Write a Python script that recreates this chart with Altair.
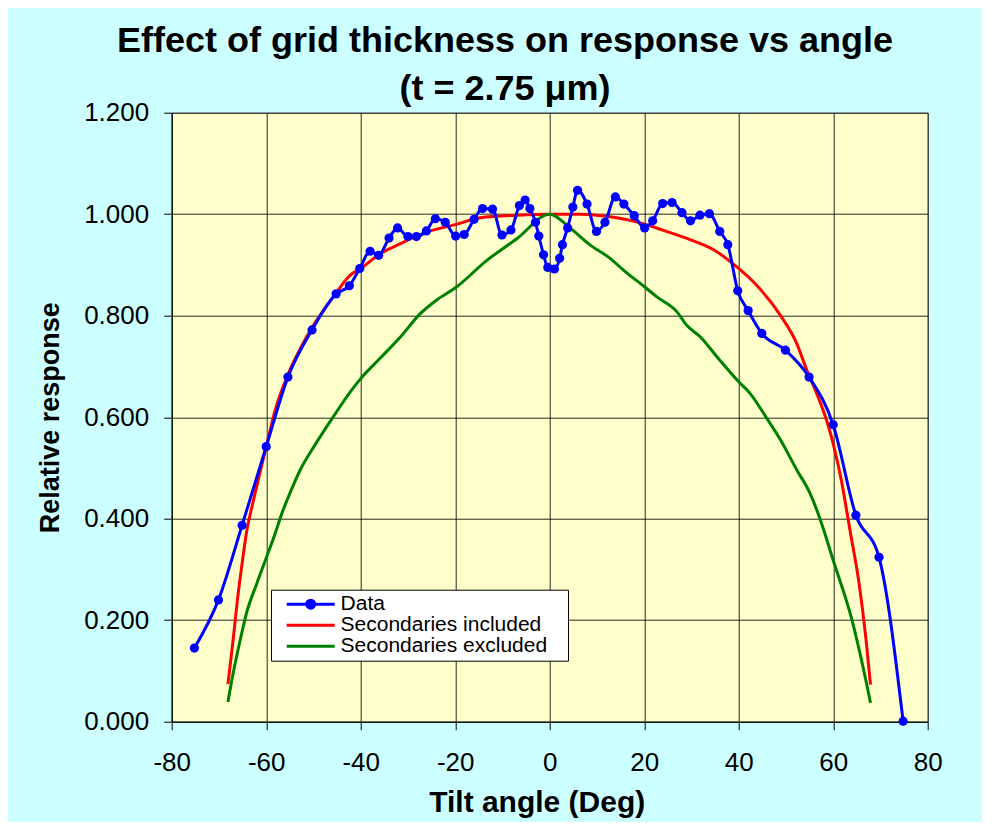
import altair as alt
import pandas as pd

# ---------------- data ----------------
TITLE_LINES = ["Effect of grid thickness on response vs angle", "(t = 2.75 μm)"]
X_TITLE = "Tilt angle (Deg)"
Y_TITLE = "Relative response"
SERIES = ["Data", "Secondaries included", "Secondaries excluded"]
COLORS = ["#0000FF", "#FF0000", "#008000"]
X_TICKS = [-80, -60, -40, -20, 0, 20, 40, 60, 80]
Y_TICKS = [0.0, 0.2, 0.4, 0.6, 0.8, 1.0, 1.2]

data_angle = [-75.2, -70.1, -65.1, -60.0, -55.4, -50.3, -45.2, -42.4, -40.2, -38.0,
              -36.2, -34.0, -32.2, -30.0, -28.2, -26.1, -24.2, -22.1, -19.9, -18.1,
              -16.0, -14.2, -12.1, -10.1, -8.2, -6.4, -5.2, -4.2, -3.0, -2.3,
              -1.3, -0.4, 1.0, 2.1, 2.7, 3.8, 4.9, 5.9, 7.9, 9.9,
              11.7, 13.9, 15.7, 17.9, 20.1, 21.8, 23.9, 25.9, 28.0, 29.8,
              31.8, 33.8, 36.0, 37.7, 39.8, 42.0, 44.9, 49.9, 54.9, 60.0,
              64.8, 69.7, 74.8]
data_value = [0.145, 0.240, 0.387, 0.542, 0.679, 0.772, 0.843, 0.859, 0.893, 0.927,
              0.919, 0.953, 0.973, 0.956, 0.956, 0.967, 0.991, 0.984, 0.957, 0.960,
              0.990, 1.011, 1.010, 0.959, 0.969, 1.017, 1.028, 1.011, 0.984, 0.957,
              0.920, 0.895, 0.892, 0.913, 0.940, 0.973, 1.014, 1.047, 1.020, 0.966,
              0.984, 1.034, 1.020, 0.997, 0.973, 0.987, 1.021, 1.023, 1.003, 0.987,
              0.998, 1.001, 0.966, 0.940, 0.849, 0.810, 0.765, 0.732, 0.679, 0.585,
              0.407, 0.324, 0.001]

incl_angle = [-68.1, -67.0, -66.1, -65.2, -64.2, -62.7, -61.7, -59.9, -58.1, -55.3,
              -52.8, -50.0, -45.8, -42.2, -40.0, -35.9, -31.6, -26.0, -19.8, -14.7,
              -6.9, 0.0, 6.5, 12.8, 19.2, 24.1, 29.7, 34.7, 39.6, 43.8,
              48.8, 52.3, 54.4, 56.5, 58.6, 60.0, 61.8, 63.5, 65.5, 66.9, 67.9]
incl_value = [0.074, 0.161, 0.239, 0.305, 0.371, 0.436, 0.476, 0.545, 0.614, 0.686,
              0.735, 0.781, 0.837, 0.880, 0.893, 0.922, 0.942, 0.965, 0.980, 0.993,
              0.998, 1.000, 1.000, 0.995, 0.983, 0.968, 0.950, 0.930, 0.896, 0.860,
              0.801, 0.745, 0.693, 0.647, 0.594, 0.548, 0.472, 0.380, 0.271, 0.166, 0.073]

excl_angle = [-68.1, -67.0, -65.5, -64.2, -62.0, -59.9, -58.1, -56.7, -55.3, -52.8,
              -49.7, -45.8, -42.2, -40.0, -35.9, -31.6, -27.4, -23.9, -19.8, -13.3,
              -6.9, 0.0, 4.4, 8.6, 12.8, 15.6, 20.2, 22.7, 26.9, 29.0,
              31.9, 35.4, 40.0, 42.4, 46.0, 48.8, 52.3, 55.1, 57.2, 60.0,
              63.9, 66.0, 67.9]
excl_value = [0.039, 0.095, 0.161, 0.213, 0.272, 0.325, 0.371, 0.410, 0.443, 0.496,
              0.545, 0.601, 0.650, 0.676, 0.716, 0.758, 0.804, 0.831, 0.856, 0.909,
              0.952, 1.000, 0.972, 0.939, 0.913, 0.890, 0.856, 0.837, 0.808, 0.781,
              0.758, 0.719, 0.670, 0.647, 0.597, 0.556, 0.496, 0.450, 0.400, 0.318,
              0.203, 0.121, 0.037]

df_data = pd.DataFrame({"angle": data_angle, "value": data_value, "series": SERIES[0]})
df_theory = pd.concat([
    pd.DataFrame({"angle": incl_angle, "value": incl_value, "series": SERIES[1]}),
    pd.DataFrame({"angle": excl_angle, "value": excl_value, "series": SERIES[2]}),
], ignore_index=True)

# ---------------- styling ----------------
FONT = "Liberation Sans, Arial, Helvetica, sans-serif"
LINE_PATH = "M-4.8,0L4.8,0"
DATA_PATH = "M-4.8,0L4.8,0M-0.8,0A0.8,0.8,0,1,1,0.8,0A0.8,0.8,0,1,1,-0.8,0Z"
PAD = "\u00a0\u00a0\u2009\u200b"

legend = alt.Legend(
    title=None,
    orient="none",
    legendX=99.3,
    legendY=477,
    fillColor="#FFFFFF",
    strokeColor="#000000",
    padding=4,
    symbolType={"expr": "datum.value === 'Data' ? '" + DATA_PATH + "' : '" + LINE_PATH + "'"},
    symbolFillColor={"expr": "datum.value === 'Data' ? '#0000FF' : 'transparent'"},
    symbolSize=100,
    symbolStrokeWidth=3,
    symbolOffset=25.2,
    labelFont=FONT,
    labelFontSize=21,
    labelColor="#000000",
    labelOffset=19.4,
    labelLimit=0,
    rowPadding=-1,
    labelExpr="datum.label + '" + PAD + "'",
)

color = alt.Color(
    "series:N",
    scale=alt.Scale(domain=SERIES, range=COLORS),
    legend=legend,
)

x_enc = alt.X(
    "angle:Q",
    scale=alt.Scale(domain=[-80, 80], nice=False, zero=False),
    axis=alt.Axis(
        values=X_TICKS, title=X_TITLE, labelExpr="toString(datum.value)",
        titleFont=FONT, titleFontSize=30, titleFontWeight="bold", titleColor="#000000",
        titleX=365, titleY=81, titleBaseline="middle", titleAlign="center",
        labelFont=FONT, labelFontSize=26, labelColor="#000000", labelPadding=20,
        labelFlush=False, labelOverlap=False,
        tickSize=8, tickColor="#000000", tickWidth=1,
        domainColor="#000000", domainWidth=1,
        grid=True, gridColor="#000000", gridOpacity=0.85, gridWidth=1,
    ),
)
y_enc = alt.Y(
    "value:Q",
    scale=alt.Scale(domain=[0, 1.2], nice=False, zero=True),
    axis=alt.Axis(
        values=Y_TICKS, title=Y_TITLE, format=".3f",
        titleFont=FONT, titleFontSize=27, titleFontWeight="bold", titleColor="#000000",
        titleX=-121, titleY=304.5, titleAngle=270, titleBaseline="middle", titleAlign="center",
        labelFont=FONT, labelFontSize=26, labelColor="#000000", labelPadding=15,
        labelFlush=False, labelOverlap=False,
        tickSize=8, tickColor="#000000", tickWidth=1,
        domainColor="#000000", domainWidth=1,
        grid=True, gridColor="#000000", gridOpacity=0.85, gridWidth=1,
    ),
)

theory = alt.Chart(df_theory).mark_line(strokeWidth=3, interpolate="monotone").encode(
    x=x_enc, y=y_enc, color=color, detail="series:N"
)
data_line = alt.Chart(df_data).mark_line(strokeWidth=3, interpolate="monotone").encode(
    x=x_enc, y=y_enc, color=color
)
data_pts = alt.Chart(df_data).mark_circle(size=85, opacity=1, color="#0000FF").encode(
    x=x_enc, y=y_enc
)

chart = alt.layer(theory, data_line, data_pts).properties(
    width=756,
    height=609,
    autosize=alt.AutoSizeParams(type="none"),
    padding={"left": 163.7, "top": 104.7, "right": 54, "bottom": 100},
    background="#CCFFFF",
    title=alt.TitleParams(
        text=TITLE_LINES,
        font=FONT, fontSize=36, fontWeight="bold", color="#000000",
        anchor="middle", frame="group", dx=-44.7,
        baseline="alphabetic", lineHeight=48, offset=-36,
    ),
).configure_view(
    fill="#FFFFCC", stroke="#808080", strokeWidth=1
)

chart.save("out.html", embed_options={"renderer": "svg", "actions": False})
